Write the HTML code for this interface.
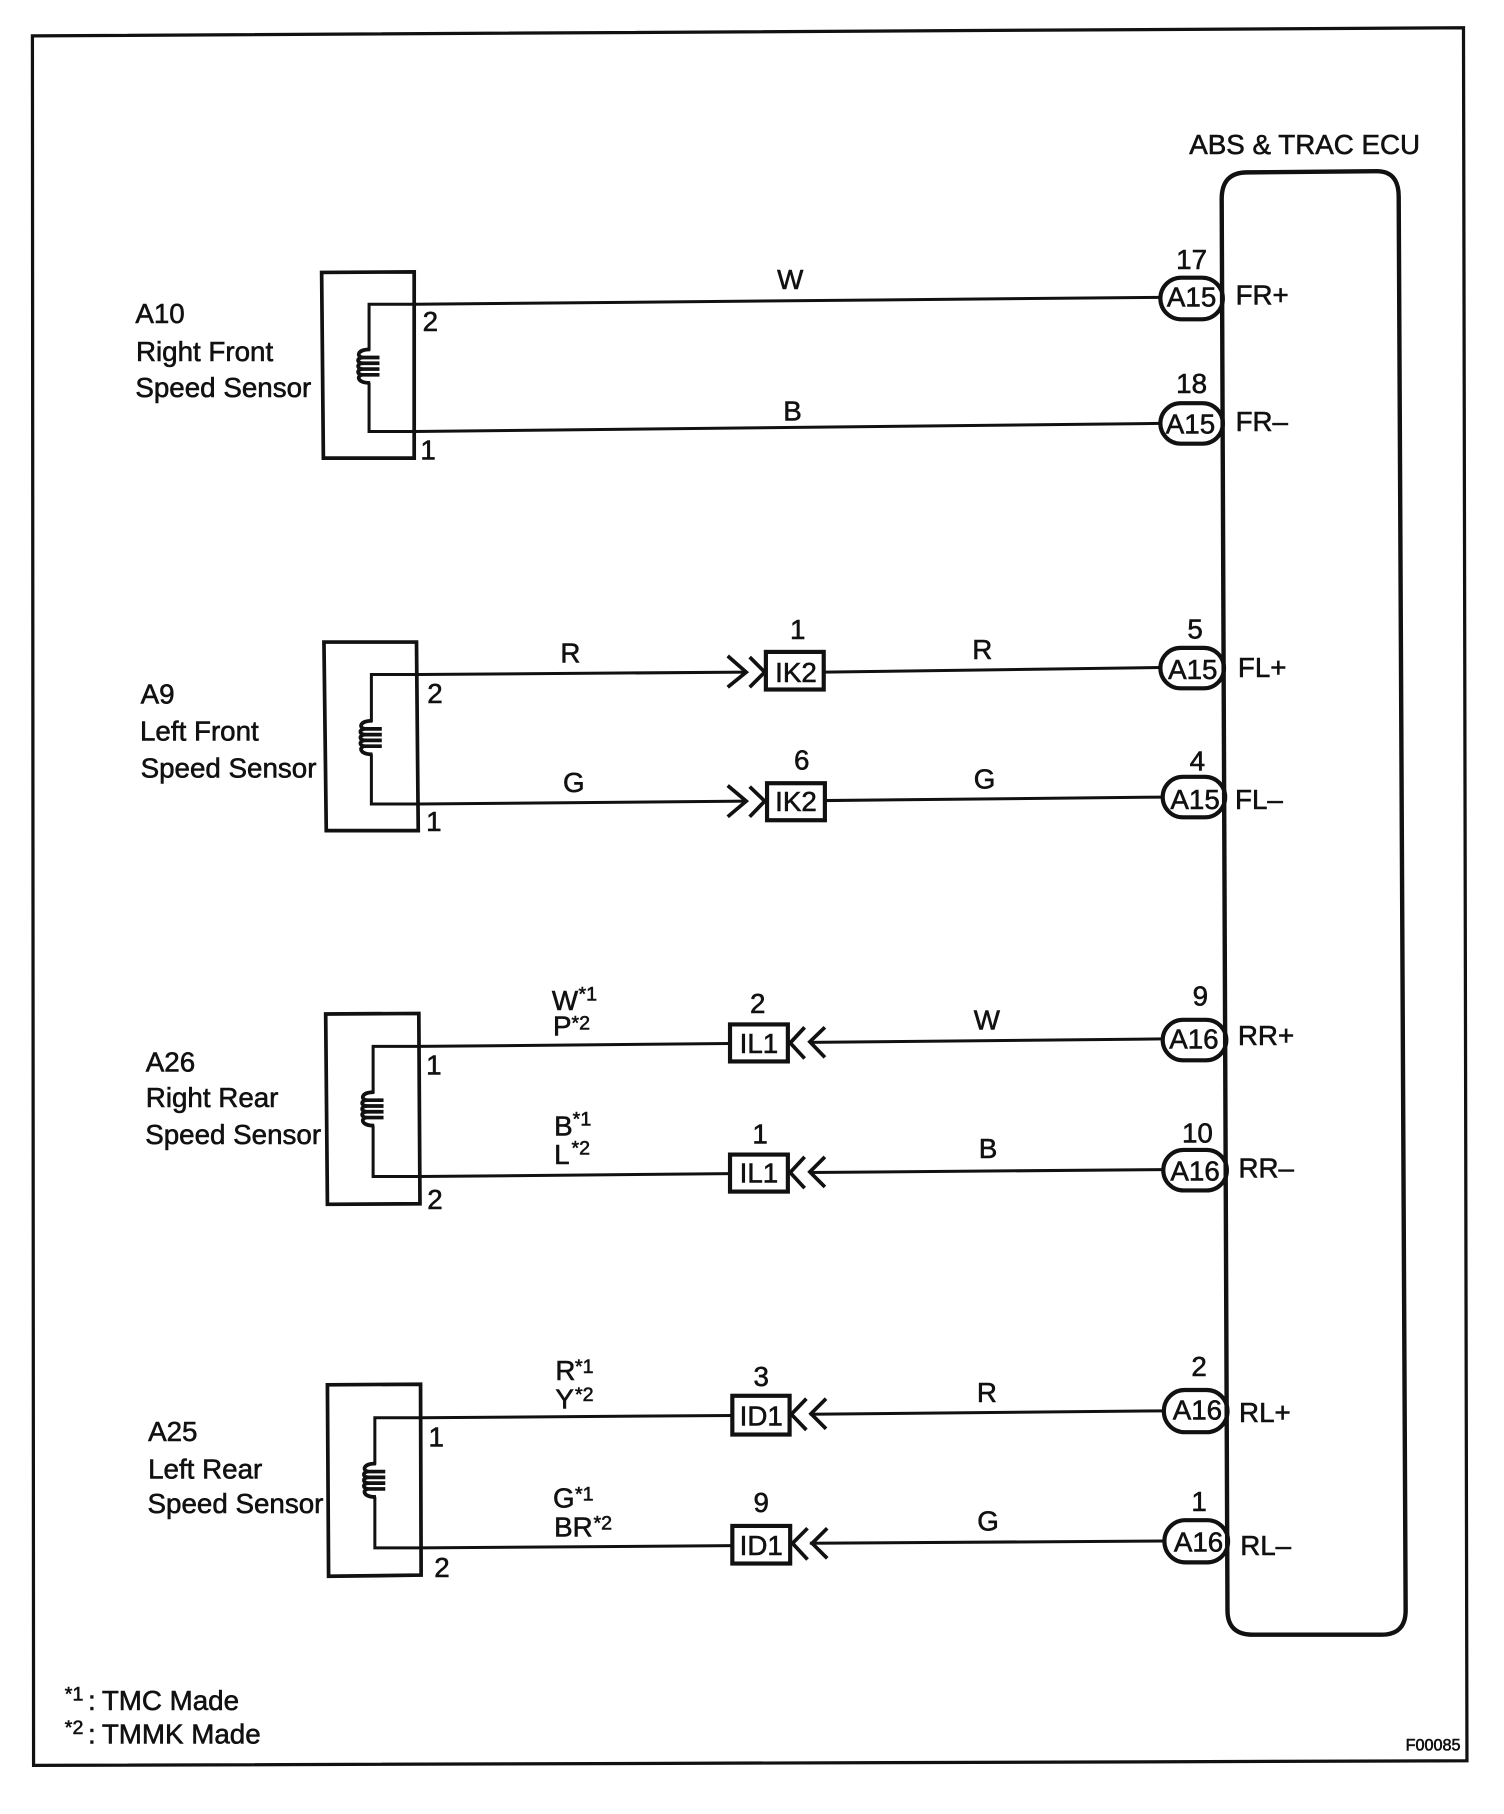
<!DOCTYPE html>
<html><head><meta charset="utf-8"><title>ABS &amp; TRAC ECU Speed Sensor Circuit</title>
<style>
html,body{margin:0;padding:0;background:#fff}
svg{display:block}
text{font-family:"Liberation Sans",Arial,sans-serif;font-size:24px;fill:#111;stroke:#111;stroke-width:.5}
.s{font-size:17px}
.m{text-anchor:middle}
.w{fill:none;stroke:#111;stroke-width:2.6}
.b{fill:#fff;stroke:#111;stroke-width:3.6}
.c{fill:none;stroke:#111;stroke-width:3.2}
</style></head><body>
<svg xmlns="http://www.w3.org/2000/svg" width="1504" height="1814" viewBox="0 0 1300 1568">
<rect width="1300" height="1568" fill="#fff" stroke="none"/>
<!-- frame -->
<path d="M28,31 L1265,24 L1268,1522 L29,1526 Z" fill="none" stroke="#111" stroke-width="2.8"/>

<!-- wires -->
<path class="w" d="M358,263 H319 V373 H358"/>
<path class="w" d="M358,263 L1003,257"/>
<path class="w" d="M358,373 L1003,366"/>
<path class="w" d="M361,583 H321 V695 H361"/>
<path class="w" d="M361,583 L645,581"/>
<path class="w" d="M361,695 L645,692.5"/>
<path class="w" d="M712,581 L1003,577"/>
<path class="w" d="M713,692 L1005,689"/>
<path class="w" d="M362,904.5 H322.5 V1017 H362"/>
<path class="w" d="M362,904.5 L631,902"/>
<path class="w" d="M362,1017 L631,1014.5"/>
<path class="w" d="M700,901 L1005,898"/>
<path class="w" d="M700,1013.5 L1005,1011"/>
<path class="w" d="M364,1225.5 H324 V1338 H364"/>
<path class="w" d="M364,1225.5 L633,1223.5"/>
<path class="w" d="M364,1338 L633,1336"/>
<path class="w" d="M700,1222.5 L1007,1219.5"/>
<path class="w" d="M700,1334 L1007,1332"/>

<!-- coils -->
<g transform="translate(319,302)"><rect x="-3" y="1" width="6" height="28" fill="#fff"/><path class="c" d="M1,0 C-11,0 -11,7 -5,7 C-11,7 -11,12 -5,12 C-11,12 -11,17 -5,17 C-11,17 -11,22 -5,22 C-11,22 -11,29 1,29 M-5,7 H9 M-5,12 H9 M-5,17 H9 M-5,22 H9"/></g>
<g transform="translate(321,623)"><rect x="-3" y="1" width="6" height="28" fill="#fff"/><path class="c" d="M1,0 C-11,0 -11,7 -5,7 C-11,7 -11,12 -5,12 C-11,12 -11,17 -5,17 C-11,17 -11,22 -5,22 C-11,22 -11,29 1,29 M-5,7 H9 M-5,12 H9 M-5,17 H9 M-5,22 H9"/></g>
<g transform="translate(322.5,944)"><rect x="-3" y="1" width="6" height="28" fill="#fff"/><path class="c" d="M1,0 C-11,0 -11,7 -5,7 C-11,7 -11,12 -5,12 C-11,12 -11,17 -5,17 C-11,17 -11,22 -5,22 C-11,22 -11,29 1,29 M-5,7 H9 M-5,12 H9 M-5,17 H9 M-5,22 H9"/></g>
<g transform="translate(324,1265)"><rect x="-3" y="1" width="6" height="28" fill="#fff"/><path class="c" d="M1,0 C-11,0 -11,7 -5,7 C-11,7 -11,12 -5,12 C-11,12 -11,17 -5,17 C-11,17 -11,22 -5,22 C-11,22 -11,29 1,29 M-5,7 H9 M-5,12 H9 M-5,17 H9 M-5,22 H9"/></g>

<!-- sensor boxes -->
<path d="M278,235.5 L358,235 L358,396 L279.5,396 Z" fill="none" stroke="#111" stroke-width="3.2"/>
<path d="M280,555 L360,555 L361.5,718 L282,718 Z" fill="none" stroke="#111" stroke-width="3.2"/>
<path d="M281.5,876.5 L362,876 L363,1040.5 L283,1041 Z" fill="none" stroke="#111" stroke-width="3.2"/>
<path d="M283,1197 L363.5,1196.5 L364,1361.5 L284,1362.5 Z" fill="none" stroke="#111" stroke-width="3.2"/>

<!-- chevrons -->
<path class="c" d="M629,567 L645,581 L629,594 M648,568 L661,581 L648,594"/>
<path class="c" d="M629,679 L645,692.5 L629,706 M648,680 L661,692.5 L648,706"/>
<path class="c" d="M695.5,888 L683,901.5 L695.5,915 M713,888 L700,900.5 L713,914"/>
<path class="c" d="M695.5,1000 L683,1013.5 L695.5,1027 M713,1000 L700,1013 L713,1026"/>
<path class="c" d="M697,1209 L684,1222.5 L697,1236 M714,1209 L701,1222 L714,1235"/>
<path class="c" d="M698,1321 L685,1334 L698,1348 M715,1321 L702,1334 L715,1347"/>

<!-- junction boxes -->
<rect class="b" x="662" y="563.5" width="50" height="32.5"/>
<rect class="b" x="663" y="677" width="50" height="32"/>
<rect class="b" x="631" y="885.5" width="50" height="32"/>
<rect class="b" x="631" y="998" width="50" height="32"/>
<rect class="b" x="633" y="1206.5" width="49.5" height="33.5"/>
<rect class="b" x="633" y="1319" width="50" height="32.5"/>

<!-- pills -->
<rect class="b" x="1003" y="240" width="54" height="36" rx="18"/>
<rect class="b" x="1003" y="348.5" width="54" height="35" rx="17.5"/>
<rect class="b" x="1003" y="560" width="55" height="35" rx="17.5"/>
<rect class="b" x="1005" y="671.5" width="54" height="35" rx="17.5"/>
<rect class="b" x="1005" y="881.5" width="55" height="35" rx="17.5"/>
<rect class="b" x="1005.5" y="994" width="55" height="35" rx="17.5"/>
<rect class="b" x="1006" y="1201.5" width="55" height="36.5" rx="18"/>
<rect class="b" x="1006.5" y="1314" width="55" height="36.5" rx="18"/>

<!-- ECU -->
<path d="M1056,172 Q1056,149 1078,149 L1190,148 Q1209,148 1209,170 L1215,1392 Q1215,1413 1194,1413 L1083,1413 Q1061,1413 1061,1392 Z" fill="none" stroke="#111" stroke-width="3.8"/>

<!-- sensor labels -->
<text x="117" y="279">A10</text><text x="117.5" y="312">Right Front</text><text x="117" y="343">Speed Sensor</text>
<text x="121.5" y="608">A9</text><text x="121" y="640">Left Front</text><text x="121.5" y="672">Speed Sensor</text>
<text x="126" y="926">A26</text><text x="126" y="957">Right Rear</text><text x="125.5" y="989">Speed Sensor</text>
<text x="128" y="1245.5">A25</text><text x="128" y="1278">Left Rear</text><text x="127.5" y="1308">Speed Sensor</text>
<text x="1028" y="133">ABS &amp; TRAC ECU</text>

<!-- sensor pins -->
<text class="m" x="372" y="286">2</text><text class="m" x="370" y="397">1</text>
<text class="m" x="376" y="607.5">2</text><text class="m" x="375" y="718.5">1</text>
<text class="m" x="375" y="929">1</text><text class="m" x="376" y="1045">2</text>
<text class="m" x="377" y="1250.5">1</text><text class="m" x="382" y="1363">2</text>

<!-- wire colours -->
<text class="m" x="683" y="250">W</text><text class="m" x="685" y="363.5">B</text>
<text class="m" x="493" y="572.5">R</text><text class="m" x="496" y="684.5">G</text>
<text class="m" x="849" y="569.5">R</text><text class="m" x="851" y="681.5">G</text>
<text class="m" x="853" y="890">W</text><text class="m" x="854" y="1001">B</text>
<text class="m" x="853" y="1212">R</text><text class="m" x="854" y="1323">G</text>

<text x="477" y="873">W</text><text class="s" x="500" y="865">*1</text>
<text x="478" y="895">P</text><text class="s" x="494" y="890">*2</text>
<text x="479" y="981.5">B</text><text class="s" x="495" y="973">*1</text>
<text x="479" y="1006">L</text><text class="s" x="494" y="998">*2</text>
<text x="480" y="1193">R</text><text class="s" x="497" y="1187">*1</text>
<text x="480" y="1217.5">Y</text><text class="s" x="497" y="1211">*2</text>
<text x="478" y="1303">G</text><text class="s" x="497" y="1297">*1</text>
<text x="479" y="1328">BR</text><text class="s" x="513" y="1322">*2</text>

<!-- junction labels -->
<text class="m" x="689.5" y="552.5">1</text><text class="m" x="693" y="665">6</text>
<text class="m" x="688" y="589.5">IK2</text><text class="m" x="688" y="701">IK2</text>
<text class="m" x="655" y="875.5">2</text><text class="m" x="657" y="988.5">1</text>
<text class="m" x="656" y="910">IL1</text><text class="m" x="656" y="1022">IL1</text>
<text class="m" x="658" y="1198">3</text><text class="m" x="658" y="1307">9</text>
<text class="m" x="658" y="1232">ID1</text><text class="m" x="658" y="1344">ID1</text>

<!-- ECU connectors -->
<text class="m" x="1030" y="232.5">17</text><text class="m" x="1030" y="339.5">18</text>
<text class="m" x="1033" y="552">5</text><text class="m" x="1035" y="666">4</text>
<text class="m" x="1037.5" y="869">9</text><text class="m" x="1035" y="987.5">10</text>
<text class="m" x="1036.5" y="1189.5">2</text><text class="m" x="1036.5" y="1306">1</text>
<text class="m" x="1030" y="265">A15</text><text class="m" x="1029" y="374.5">A15</text>
<text class="m" x="1031" y="587">A15</text><text class="m" x="1033" y="699.5">A15</text>
<text class="m" x="1032" y="906.5">A16</text><text class="m" x="1033" y="1020.5">A16</text>
<text class="m" x="1035" y="1227">A16</text><text class="m" x="1036" y="1341">A16</text>

<text x="1068" y="263">FR+</text><text x="1068" y="372.5">FR–</text>
<text x="1070" y="585">FL+</text><text x="1067.5" y="699.5">FL–</text>
<text x="1070" y="903.5">RR+</text><text x="1070.5" y="1018">RR–</text>
<text x="1071" y="1229">RL+</text><text x="1072" y="1344">RL–</text>

<!-- footer -->
<text class="s" x="56" y="1470">*1</text><text x="76" y="1478">:</text><text x="88" y="1478">TMC Made</text>
<text class="s" x="56" y="1499">*2</text><text x="76" y="1507">:</text><text x="88" y="1507">TMMK Made</text>
<text x="1215" y="1513" style="font-size:14px">F00085</text>
</svg>
</body></html>
